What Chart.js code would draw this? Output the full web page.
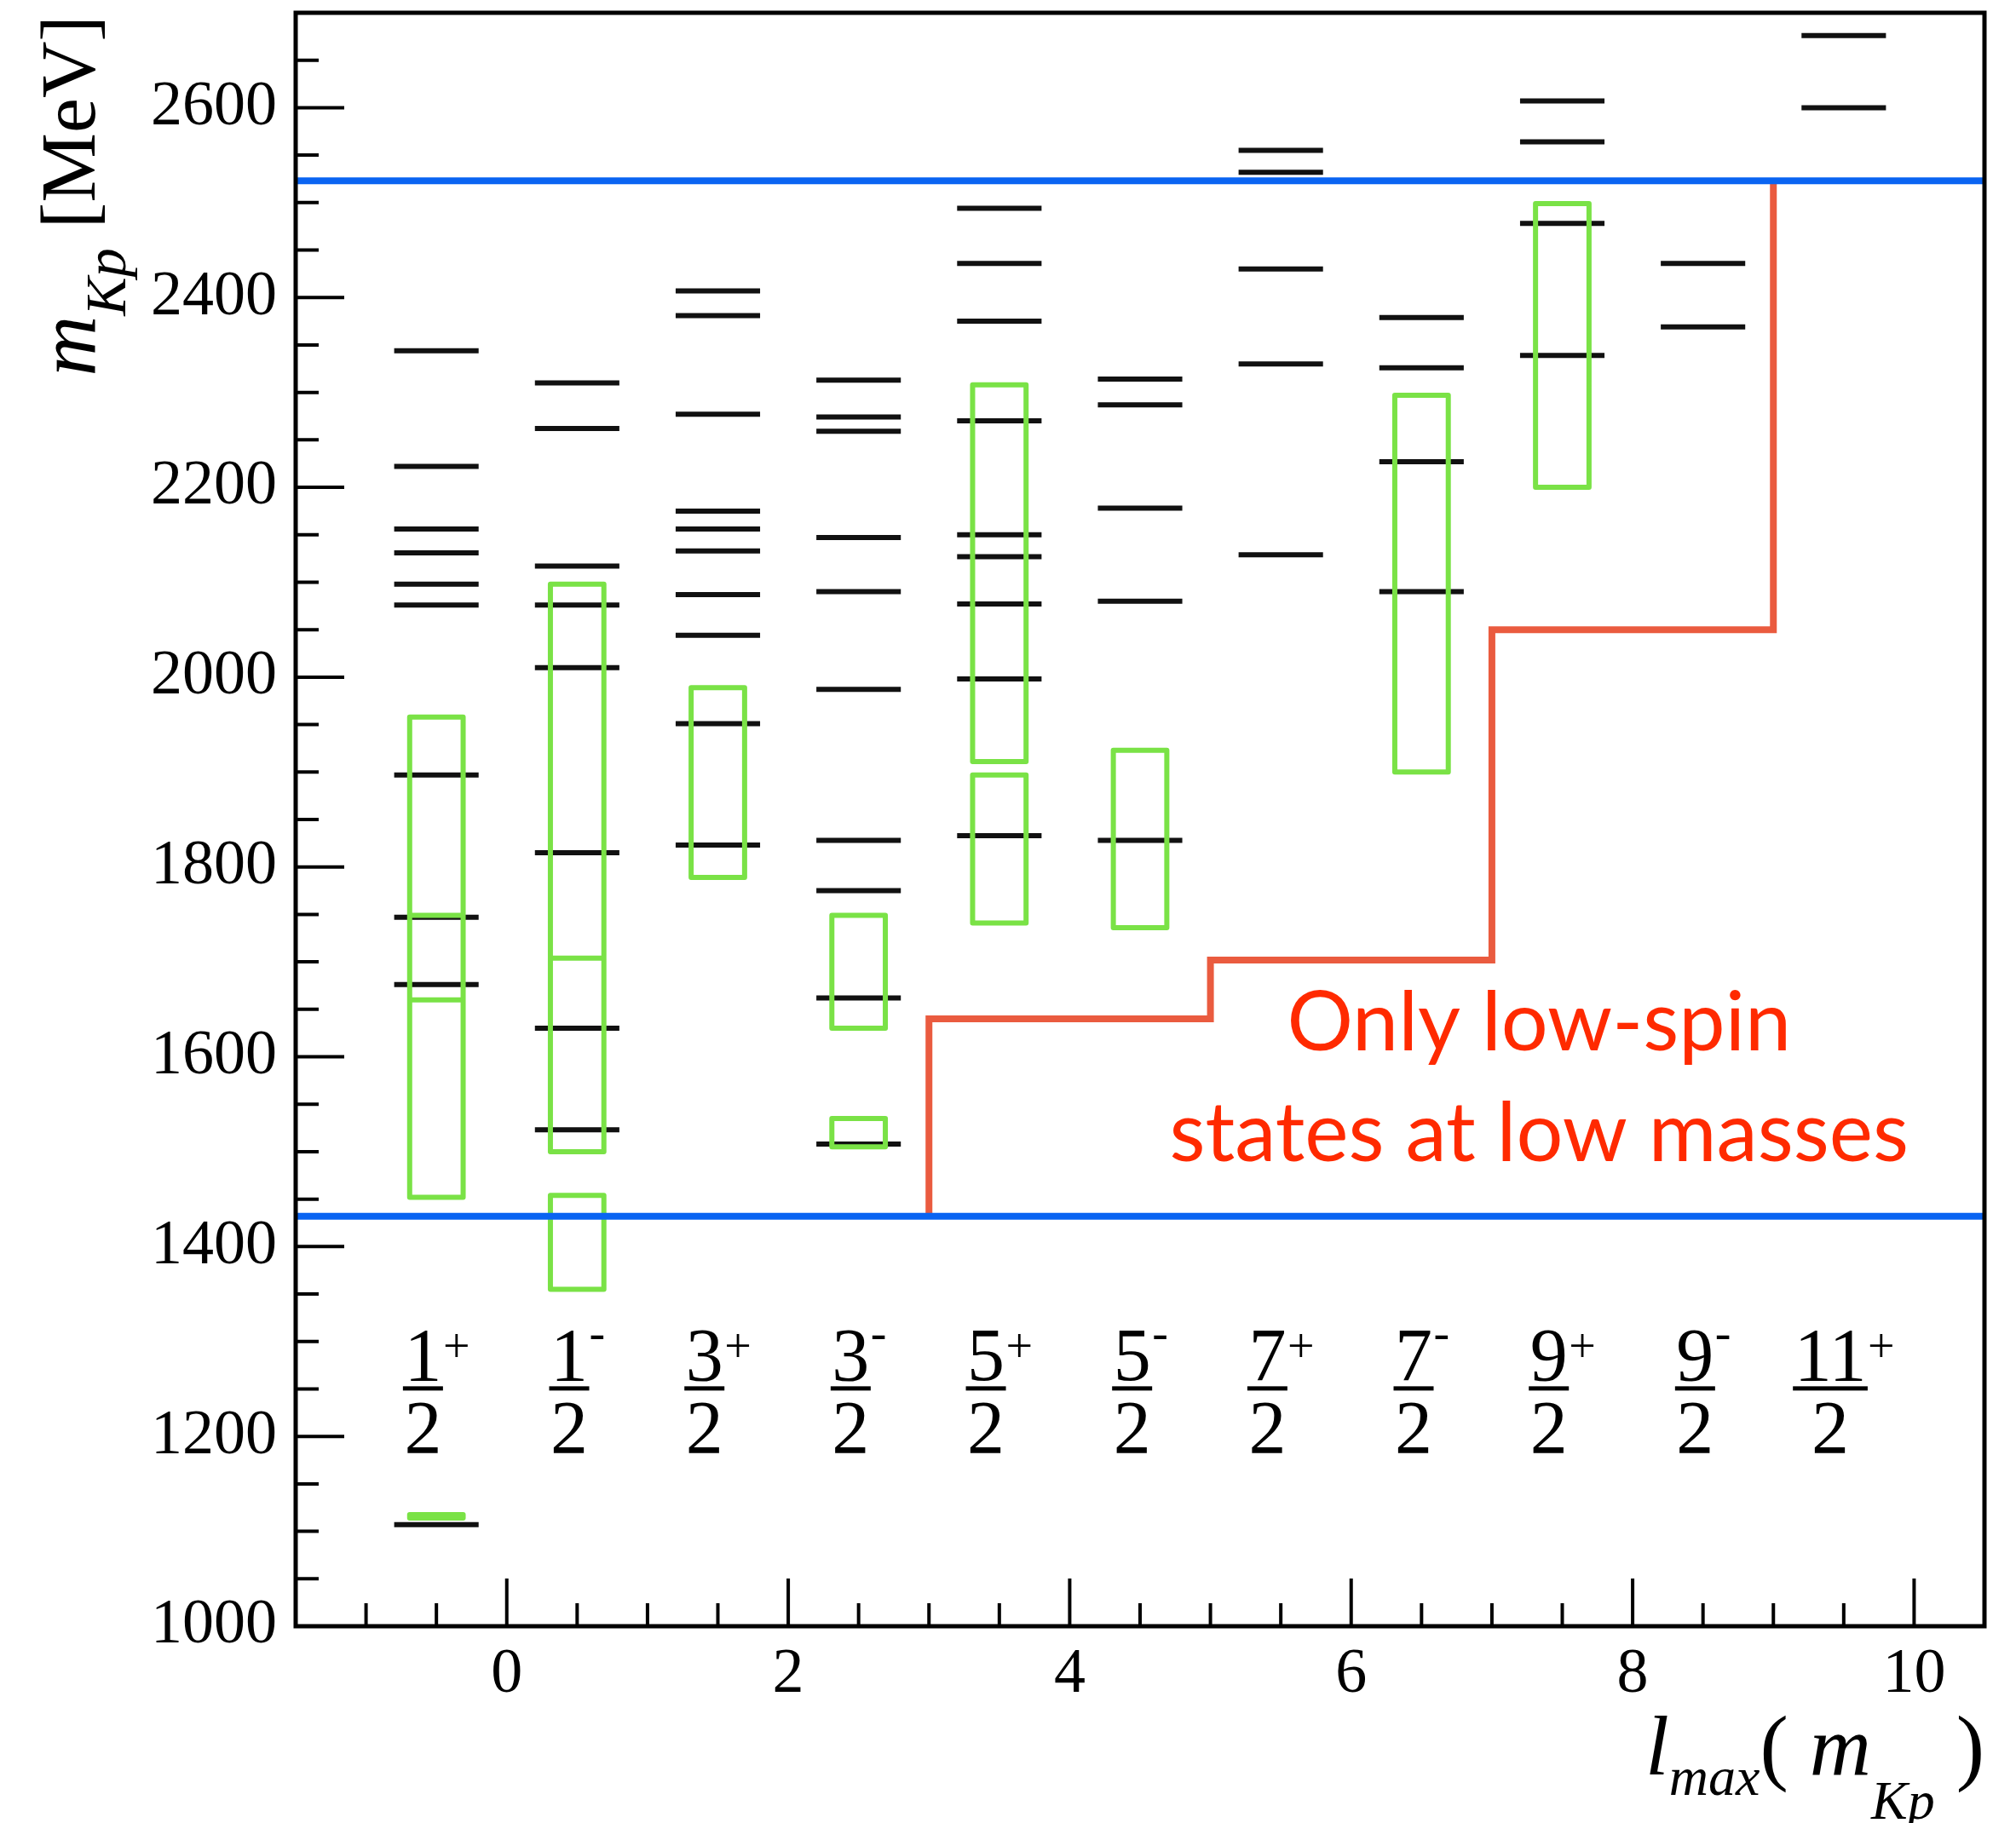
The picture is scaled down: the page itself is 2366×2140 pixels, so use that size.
<!DOCTYPE html>
<html>
<head>
<meta charset="utf-8">
<script src="https://cdn.jsdelivr.net/npm/chart.js@4.4.1/dist/chart.umd.min.js"></script>
<style>
  html, body { margin: 0; padding: 0; background: #fff; }
  canvas { display: block; }
</style>
</head>
<body>
<canvas id="spectrum" width="2366" height="2140"></canvas>
<script>
// J^P columns, placed half a unit off the l_max grid
const columns = [-0.5, 0.5, 1.5, 2.5, 3.5, 4.5, 5.5, 6.5, 7.5, 8.5, 9.5];
const spinNum = ['1', '1', '3', '3', '5', '5', '7', '7', '9', '9', '11'];
const parity  = ['+', '-', '+', '-', '+', '-', '+', '-', '+', '-', '+'];

// model Lambda* levels in MeV, one list per column
const modelMasses = [
  [1107, 1676, 1747, 1897, 2076, 2098, 2131, 2156, 2222, 2344],
  [1523, 1630, 1815, 2010, 2076, 2117, 2262, 2310],
  [1823, 1951, 2044, 2087, 2133, 2156, 2175, 2277, 2381, 2407],
  [1508, 1662, 1775, 1828, 1987, 2090, 2147, 2259, 2274, 2313],
  [1833, 1998, 2077, 2127, 2150, 2270, 2375, 2436, 2494],
  [1828, 2080, 2178, 2287, 2314],
  [2129, 2330, 2430, 2532, 2555],
  [2090, 2227, 2326, 2379],
  [2339, 2478, 2564, 2607],
  [2369, 2436],
  [2600, 2676]
];

// observed states: column index and mass window (MeV)
const obsCol  = [0, 0, 0, 1, 1, 1, 2, 3, 3, 4, 4, 5, 7, 8];
const obsLow  = [1114, 1452, 1660, 1355, 1500, 1500, 1789, 1505, 1630, 1741, 1911, 1736, 1900, 2200];
const obsHigh = [1117.5, 1958, 1749, 1454, 2098, 1704, 1989, 1535, 1749, 1897, 2308, 1923, 2297, 2499];

// kinematic limits of m(Kp)
const mKpMin = 1432;
const mKpMax = 2523;

// l_max reachable vs m(Kp)
const lmaxX = [3, 3, 5, 5, 7, 7, 9, 9];
const lmaxM = [1432, 1640, 1640, 1702, 1702, 2050, 2050, 2523];

const xTicks = [0, 2, 4, 6, 8, 10];
const yTicks = [1000, 1200, 1400, 1600, 1800, 2000, 2200, 2400, 2600];

const serif = '"Liberation Serif", "Times New Roman", serif';

const levelPts = [];
modelMasses.forEach((list, i) => {
  list.forEach(m => {
    levelPts.push({ x: columns[i] - 0.3, y: m }, { x: columns[i] + 0.3, y: m }, { x: columns[i], y: null });
  });
});

const boxPts = [];
obsCol.forEach((c, i) => {
  const cx = columns[c], w = 0.19;
  boxPts.push(
    { x: cx - w, y: obsLow[i] }, { x: cx + w, y: obsLow[i] },
    { x: cx + w, y: obsHigh[i] }, { x: cx - w, y: obsHigh[i] },
    { x: cx - w, y: obsLow[i] }, { x: cx, y: null }
  );
});

const stepPts = lmaxX.map((v, i) => ({ x: v, y: lmaxM[i] }));

function runsWidth(ctx, runs) {
  let w = 0;
  runs.forEach(r => { ctx.font = r.font; w += ctx.measureText(r.text).width; });
  return w;
}
function drawRuns(ctx, runs, x, y) {
  runs.forEach(r => {
    ctx.font = r.font;
    ctx.fillText(r.text, x, y + r.dy);
    x += ctx.measureText(r.text).width;
  });
}

// inward ticks, frame, spin labels, titles and the note
const decorations = {
  id: 'decorations',
  afterDraw(chart) {
    const { ctx, chartArea: a, scales: { x, y } } = chart;
    ctx.save();

    ctx.strokeStyle = '#000';
    ctx.lineWidth = 4;
    ctx.beginPath();
    for (let v = 1050; v < 2700; v += 50) {
      const py = y.getPixelForValue(v);
      const len = v % 200 === 0 ? 57 : 27;
      ctx.moveTo(a.left, py);
      ctx.lineTo(a.left + len, py);
    }
    for (let v = -1; v < 10.5; v += 0.5) {
      const px = x.getPixelForValue(v);
      const len = v % 2 === 0 ? 56 : 27;
      ctx.moveTo(px, a.bottom);
      ctx.lineTo(px, a.bottom - len);
    }
    ctx.stroke();
    ctx.lineWidth = 5;
    ctx.strokeRect(a.left, a.top, a.right - a.left, a.bottom - a.top);

    // J^P fractions
    ctx.fillStyle = '#000';
    ctx.textBaseline = 'alphabetic';
    const barY = y.getPixelForValue(1251);
    columns.forEach((c, i) => {
      ctx.font = `88px ${serif}`;
      const numW = ctx.measureText(spinNum[i]).width;
      const barW = numW + 3;
      ctx.font = `56px ${serif}`;
      const supW = ctx.measureText(parity[i]).width;
      const mid = x.getPixelForValue(c) - supW / 2;
      ctx.fillRect(mid - barW / 2, barY - 2, barW, 5);
      ctx.font = `88px ${serif}`;
      ctx.textAlign = 'center';
      ctx.fillText(spinNum[i], mid, barY - 9);
      ctx.fillText('2', mid, barY + 76);
      ctx.textAlign = 'left';
      ctx.font = `56px ${serif}`;
      ctx.fillText(parity[i], mid + barW / 2, barY + (parity[i] === '+' ? -30 : -46));
    });

    // x title: l_max( m_Kp )
    const xRuns = [
      { text: 'l', font: `italic 100px ${serif}`, dy: 0 },
      { text: 'max', font: `italic 64px ${serif}`, dy: 24 },
      { text: '( ', font: `100px ${serif}`, dy: 0 },
      { text: 'm', font: `italic 100px ${serif}`, dy: 0 },
      { text: 'Kp', font: `italic 64px ${serif}`, dy: 52 },
      { text: ' )', font: `100px ${serif}`, dy: 0 }
    ];
    drawRuns(ctx, xRuns, a.right - runsWidth(ctx, xRuns), 2083);

    // y title: m_Kp [MeV], rotated
    const yRuns = [
      { text: 'm', font: `italic 98px ${serif}`, dy: 0 },
      { text: 'Kp', font: `italic 68px ${serif}`, dy: 36 },
      { text: ' [MeV]', font: `92px ${serif}`, dy: 0 }
    ];
    ctx.save();
    ctx.translate(111, a.top + 3);
    ctx.rotate(-Math.PI / 2);
    drawRuns(ctx, yRuns, -runsWidth(ctx, yRuns), 0);
    ctx.restore();

    // note
    ctx.fillStyle = '#ff2a00';
    ctx.font = '97px Lato, "Open Sans", sans-serif';
    ctx.textAlign = 'center';
    const nx = x.getPixelForValue(7.335);
    ctx.fillText('Only low-spin', nx, y.getPixelForValue(1607));
    ctx.fillText('states at low masses', nx, y.getPixelForValue(1490));

    ctx.restore();
  }
};

// drop the label overhang padding so the plot frame sits where it should
function fixBox(size, key) {
  return s => {
    s[key] = size;
    s.paddingTop = 0; s.paddingBottom = 0; s.paddingLeft = 0; s.paddingRight = 0;
  };
}

new Chart(document.getElementById('spectrum'), {
  type: 'line',
  data: {
    datasets: [
      {
        label: 'm(Kp) min',
        data: [{ x: -1.5, y: mKpMin }, { x: 10.5, y: mKpMin }],
        borderColor: '#0a64f2', borderWidth: 8, order: 0
      },
      {
        label: 'm(Kp) max',
        data: [{ x: -1.5, y: mKpMax }, { x: 10.5, y: mKpMax }],
        borderColor: '#0a64f2', borderWidth: 8, order: 0
      },
      {
        label: 'l_max',
        data: stepPts,
        borderColor: '#ea5b3f', borderWidth: 8, borderJoinStyle: 'miter', order: 1
      },
      {
        label: 'observed',
        data: boxPts,
        borderColor: '#7ae246', borderWidth: 6, borderJoinStyle: 'round', order: 2
      },
      {
        label: 'model',
        data: levelPts,
        borderColor: '#111', borderWidth: 6, borderCapStyle: 'butt', order: 3
      }
    ]
  },
  options: {
    responsive: false,
    animation: false,
    devicePixelRatio: 1,
    layout: { padding: { top: 15, right: 37, left: 0, bottom: 0 } },
    elements: { point: { radius: 0, hoverRadius: 0 }, line: { tension: 0, fill: false } },
    plugins: { legend: { display: false }, tooltip: { enabled: false } },
    scales: {
      x: {
        type: 'linear', min: -1.5, max: 10.5,
        grid: { display: false, drawTicks: false },
        border: { display: false },
        ticks: { font: { family: serif, size: 74 }, color: '#000', padding: 13, maxRotation: 0, callback: v => String(v) },
        afterBuildTicks: s => { s.ticks = xTicks.map(v => ({ value: v })); },
        afterFit: fixBox(231, 'height')
      },
      y: {
        type: 'linear', min: 1000, max: 2700,
        grid: { display: false, drawTicks: false },
        border: { display: false },
        ticks: { font: { family: serif, size: 74 }, color: '#000', padding: 22, callback: v => String(v) },
        afterBuildTicks: s => { s.ticks = yTicks.map(v => ({ value: v })); },
        afterFit: fixBox(347, 'width')
      }
    }
  },
  plugins: [decorations]
});
</script>
</body>
</html>
